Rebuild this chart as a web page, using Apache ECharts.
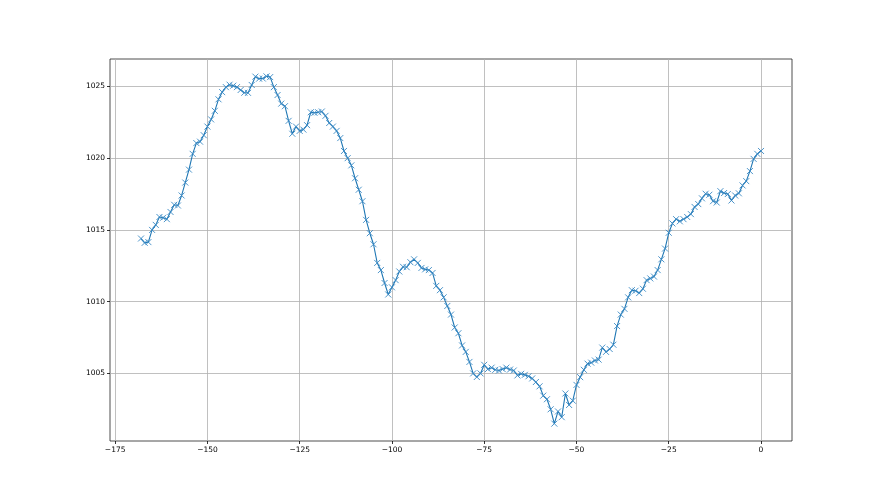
<!DOCTYPE html>
<html>
<head>
<meta charset="utf-8">
<script src="https://cdn.jsdelivr.net/npm/echarts@6/dist/echarts.min.js"></script>
<style>html,body{margin:0;padding:0;background:#fff;}#c{width:880px;height:495px;}</style>
</head>
<body>
<div id="c"></div>
<script>
// Pressure readings, hourly from -168 h to 0 h
const pressure = [
  1014.4, 1014.1, 1014.15, 1015.0, 1015.35, 1015.9, 1015.85, 1015.75, 1016.25, 1016.75,
  1016.7, 1017.4, 1018.3, 1019.2, 1020.3, 1021.05, 1021.15, 1021.6, 1022.2, 1022.7,
  1023.3, 1024.1, 1024.6, 1024.95, 1025.12, 1025.05, 1024.95, 1024.75, 1024.56, 1024.55,
  1025.1, 1025.68, 1025.54, 1025.55, 1025.7, 1025.65, 1024.95, 1024.4, 1023.8, 1023.62,
  1022.6, 1021.7, 1022.2, 1021.9, 1021.99, 1022.3, 1023.2, 1023.16, 1023.2, 1023.25,
  1022.95, 1022.45, 1022.2, 1021.9, 1021.4, 1020.5, 1020.0, 1019.5, 1018.6, 1017.8,
  1017.0, 1015.7, 1014.77, 1014.0, 1012.7, 1012.2, 1011.3, 1010.5, 1011.0, 1011.5,
  1012.1, 1012.43, 1012.4, 1012.75, 1012.95, 1012.7, 1012.35, 1012.25, 1012.2, 1012.0,
  1011.1, 1010.8, 1010.3, 1009.7, 1009.1, 1008.2, 1007.8, 1006.95, 1006.5, 1005.8,
  1005.0, 1004.75, 1005.0, 1005.6, 1005.3, 1005.4, 1005.25, 1005.2, 1005.3, 1005.4,
  1005.27, 1005.2, 1004.86, 1004.97, 1004.9, 1004.8, 1004.65, 1004.4, 1004.1, 1003.45,
  1003.2, 1002.5, 1001.5, 1002.35, 1001.95, 1003.6, 1002.8, 1003.1, 1004.2, 1004.74,
  1005.25, 1005.68, 1005.75, 1005.9, 1005.96, 1006.8, 1006.5, 1006.7, 1007.0, 1008.3,
  1009.1, 1009.5, 1010.3, 1010.8, 1010.76, 1010.6, 1010.9, 1011.5, 1011.62, 1011.75,
  1012.2, 1012.95, 1013.7, 1014.8, 1015.45, 1015.75, 1015.6, 1015.75, 1015.9, 1016.1,
  1016.6, 1016.8, 1017.2, 1017.52, 1017.45, 1017.0, 1016.91, 1017.7, 1017.57, 1017.5,
  1017.05, 1017.4, 1017.55, 1018.1, 1018.4, 1019.1, 1019.95, 1020.3, 1020.5
];
const hourStart = -168;
const hours = pressure.map((_, i) => hourStart + i);
const xTicks = [-175, -150, -125, -100, -75, -50, -25, 0];
const yTicks = [1005, 1010, 1015, 1020, 1025];

const xMinD = Math.min(...hours), xMaxD = Math.max(...hours);
const yMinD = Math.min(...pressure), yMaxD = Math.max(...pressure);
const xPad = (xMaxD - xMinD) * 0.05, yPad = (yMaxD - yMinD) * 0.05;

const fmt = v => String(v).replace('-', '\u2212');
const labelStyle = {color: '#000', fontFamily: 'DejaVu Sans', fontSize: 7.5};

const chart = echarts.init(document.getElementById('c'), null, {renderer: 'canvas'});
chart.setOption({
  animation: false,
  backgroundColor: '#fff',
  grid: {left: 110, right: 88, top: 59, bottom: 54, show: true, borderColor: '#222', borderWidth: 0.8, backgroundColor: 'transparent'},
  xAxis: {
    type: 'value', min: xMinD - xPad, max: xMaxD + xPad,
    axisLine: {show: false, onZero: false},
    axisTick: {show: true, inside: false, length: 3, customValues: xTicks, lineStyle: {color: '#000', width: 0.8}},
    axisLabel: Object.assign({customValues: xTicks, margin: 5, formatter: fmt}, labelStyle),
    splitLine: {show: true, lineStyle: {color: '#b0b0b0', width: 0.8}}
  },
  yAxis: {
    type: 'value', min: yMinD - yPad, max: yMaxD + yPad,
    axisLine: {show: false, onZero: false},
    axisTick: {show: true, inside: false, length: 3, customValues: yTicks, lineStyle: {color: '#000', width: 0.8}},
    axisLabel: Object.assign({customValues: yTicks, margin: 5, formatter: fmt}, labelStyle),
    splitLine: {show: true, lineStyle: {color: '#b0b0b0', width: 0.8}}
  },
  series: [{
    type: 'line',
    data: hours.map((h, i) => [h, pressure[i]]),
    showSymbol: true,
    showAllSymbol: true,
    symbol: 'path://M0,0L10,10M10,0L0,10',
    symbolSize: 6,
    lineStyle: {color: '#1f77b4', width: 1.1},
    itemStyle: {color: 'rgba(0,0,0,0)', borderColor: '#3a8ac4', borderWidth: 1, opacity: 0.9},
    z: 3
  }]
});
</script>
</body>
</html>
